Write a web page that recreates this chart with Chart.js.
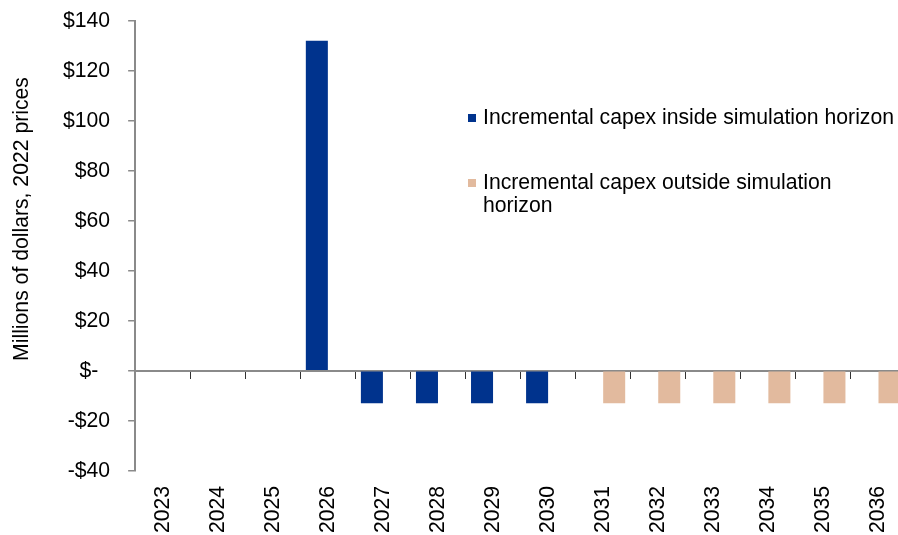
<!DOCTYPE html>
<html lang="en">
<head>
    <meta charset="UTF-8">
    <title>Incremental capex</title>
    <script src="https://cdn.jsdelivr.net/npm/chart.js"></script>
    <style>
        body {
            margin: 0;
            background: #ffffff;
            overflow: hidden;
        }
        .chart-box {
            width: 911px;
            height: 550px;
            margin-top: -10px;
        }
    </style>
</head>
<body>
    <div class="chart-box">
        <canvas id="capexChart"></canvas>
    </div>

    <script>
        const years = ['2023', '2024', '2025', '2026', '2027', '2028', '2029',
                       '2030', '2031', '2032', '2033', '2034', '2035', '2036'];
        const insideHorizon = [0, 0, 0, 132, -13, -13, -13, -13, 0, 0, 0, 0, 0, 0];
        const outsideHorizon = [0, 0, 0, 0, 0, 0, 0, 0, -13, -13, -13, -13, -13, -13];
        const seriesNames = ['Incremental capex inside simulation horizon',
                             'Incremental capex outside simulation horizon'];
        const yTitle = 'Millions of dollars, 2022 prices';

        const FAMILY = '"Liberation Sans", Arial, sans-serif';
        const SIZE = 21.2;
        const FONT = SIZE + 'px ' + FAMILY;
        const AXIS_GREY = '#8a8a8a';
        const SHIFT = 10; // canvas sits 10px above the page top

        function dollars(v) {
            if (v === 0) return '$-  ';
            return v < 0 ? '-$' + (-v) : '$' + v;
        }

        // legend on the right, wraps long labels
        const sideLegend = {
            id: 'sideLegend',
            afterDraw(chart) {
                const ctx = chart.ctx;
                const tops = [118 + SHIFT, 183 + SHIFT];
                ctx.save();
                ctx.font = FONT;
                ctx.textBaseline = 'middle';
                chart.data.datasets.forEach((ds, i) => {
                    const words = ds.label.split(' ');
                    const lines = [];
                    let line = '';
                    words.forEach(w => {
                        const test = line ? line + ' ' + w : w;
                        if (ctx.measureText(test).width > 414 && line) {
                            lines.push(line);
                            line = w;
                        } else {
                            line = test;
                        }
                    });
                    lines.push(line);
                    ctx.fillStyle = ds.backgroundColor;
                    ctx.fillRect(468, tops[i] - 4, 8, 8);
                    ctx.fillStyle = '#000';
                    lines.forEach((l, k) => ctx.fillText(l, 483, tops[i] + k * 23));
                });
                ctx.restore();
            }
        };

        // y axis title, placed by hand
        const yAxisTitle = {
            id: 'yAxisTitle',
            afterDraw(chart) {
                const ctx = chart.ctx;
                ctx.save();
                ctx.font = FONT;
                ctx.fillStyle = '#000';
                ctx.textAlign = 'center';
                ctx.textBaseline = 'middle';
                ctx.translate(22, 219 + SHIFT);
                ctx.rotate(-Math.PI / 2);
                ctx.fillText(yTitle, 0, 0);
                ctx.restore();
            }
        };

        new Chart(document.getElementById('capexChart'), {
            type: 'bar',
            data: {
                labels: years,
                datasets: [{
                    label: seriesNames[0],
                    data: insideHorizon,
                    backgroundColor: '#00338d',
                    xAxisID: 'x'
                }, {
                    label: seriesNames[1],
                    data: outsideHorizon,
                    backgroundColor: '#e2ba9e',
                    xAxisID: 'x'
                }]
            },
            options: {
                responsive: true,
                maintainAspectRatio: false,
                animation: false,
                categoryPercentage: 0.8,
                barPercentage: 1.0,
                layout: { padding: { left: 45, top: 10, right: 2, bottom: 0 } },
                plugins: {
                    legend: { display: false },
                    tooltip: { enabled: false }
                },
                scales: {
                    x: {
                        type: 'category',
                        position: { y: 0 },
                        offset: true,
                        grid: {
                            offset: true,
                            drawOnChartArea: false,
                            drawTicks: true,
                            tickLength: 7,
                            tickColor: '#333'
                        },
                        border: { color: AXIS_GREY, width: 2 },
                        ticks: { display: false }
                    },
                    x2: {
                        type: 'category',
                        position: 'bottom',
                        offset: true,
                        grid: { display: false },
                        border: { display: false },
                        ticks: {
                            color: '#000',
                            font: { family: FAMILY, size: SIZE },
                            minRotation: 90,
                            maxRotation: 90,
                            padding: 7,
                            autoSkip: false
                        }
                    },
                    y: {
                        min: -40,
                        max: 140,
                        grid: {
                            drawOnChartArea: false,
                            tickLength: 7,
                            tickColor: AXIS_GREY,
                            lineWidth: 1.5
                        },
                        border: { color: AXIS_GREY, width: 2 },
                        ticks: {
                            stepSize: 20,
                            padding: 18,
                            color: '#000',
                            font: { family: FAMILY, size: SIZE },
                            callback: v => dollars(v)
                        }
                    }
                }
            },
            plugins: [sideLegend, yAxisTitle]
        });
    </script>
</body>
</html>
